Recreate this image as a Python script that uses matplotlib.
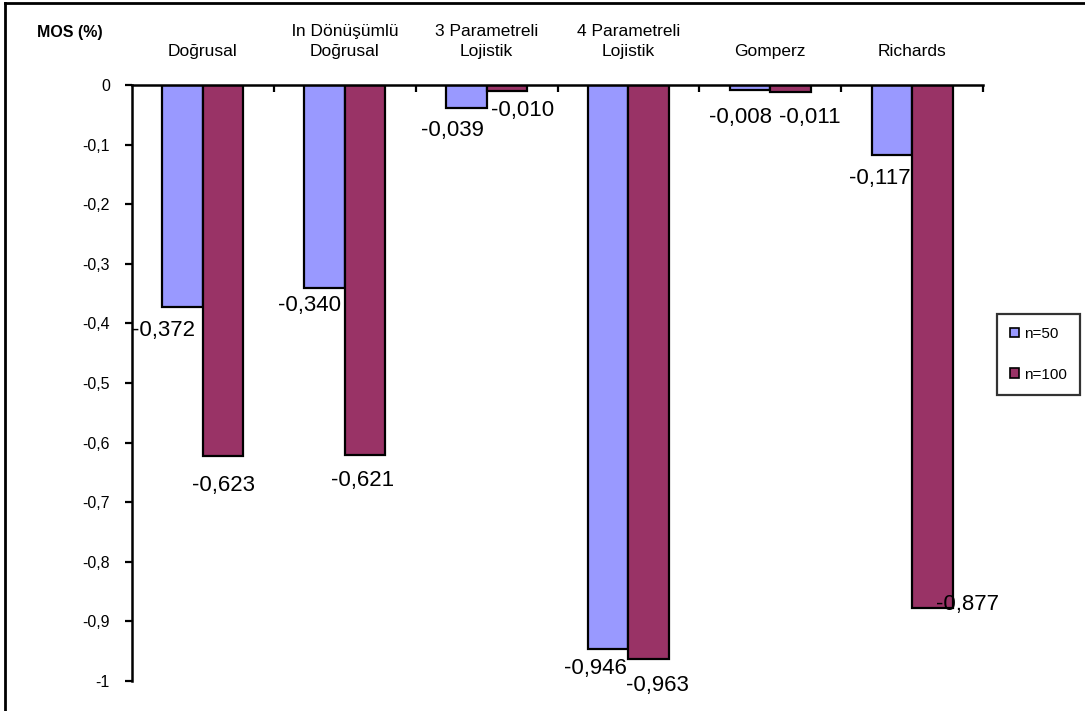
import matplotlib
matplotlib.use("Agg")
import matplotlib.pyplot as plt
from matplotlib.lines import Line2D
from matplotlib.patches import Patch
import numpy as np

plt.rcParams['font.family'] = ['Liberation Sans', 'DejaVu Sans']

# Model names (top of chart) and MOS (%) values for both sample sizes
categories = ["Doğrusal", "ln Dönüşümlü\nDoğrusal", "3 Parametreli\nLojistik",
              "4 Parametreli\nLojistik", "Gomperz", "Richards"]
mos_n50 = [-0.372, -0.340, -0.039, -0.946, -0.008, -0.117]
mos_n100 = [-0.623, -0.621, -0.010, -0.963, -0.011, -0.877]
series_names = ["n=50", "n=100"]
yticks = [0, -0.1, -0.2, -0.3, -0.4, -0.5, -0.6, -0.7, -0.8, -0.9, -1]

colors = ["#9999FF", "#993366"]

# label offsets (points) relative to each bar's end
offs_n50 = [(-14, -17), (-11, -13), (-10, -16), (-9, -14), (-7, -20), (-9, -17)]
offs_n100 = [(0, -21), (-2, -18), (11, -14), (6, -19), (14, -19), (25, 2)]


def fmt(v):
    return f"{v:.3f}".replace(".", ",")


def tick_fmt(t):
    if t == 0:
        return "0"
    if t == -1:
        return "-1"
    return f"{t:.1f}".replace(".", ",")


fig = plt.figure(figsize=(10.85, 7.11), dpi=100)
ax = fig.add_axes([132 / 1085, 1 - 681 / 711, (983 - 132) / 1085, (681 - 85) / 711])

x = np.arange(len(categories)) + 0.5
w = 1 / 3.5
b1 = ax.bar(x - w / 2, mos_n50, width=w, color=colors[0], edgecolor="black", linewidth=1.6)
b2 = ax.bar(x + w / 2, mos_n100, width=w, color=colors[1], edgecolor="black", linewidth=1.6)

for bars, vals, offs in ((b1, mos_n50, offs_n50), (b2, mos_n100, offs_n100)):
    for bar, v, (dx, dy) in zip(bars, vals, offs):
        ax.annotate(fmt(v), (bar.get_x() + bar.get_width() / 2, v),
                    xytext=(dx, dy), textcoords="offset points",
                    ha="center", va="center", fontsize=16, color="black")

ax.set_xlim(0, 6)
ax.set_ylim(-1, 0)
ax.set_yticks(yticks)
ax.set_yticklabels([tick_fmt(t) for t in yticks], fontsize=11.5)
ax.tick_params(axis="y", direction="out", length=5, width=1.6, pad=11)

ax.xaxis.set_ticks_position("top")
ax.set_xticks(x)
ax.set_xticklabels(categories, fontsize=12.5, linespacing=1.35)
ax.tick_params(axis="x", which="major", length=0, pad=19, labeltop=True, labelbottom=False)
ax.set_xticks(np.arange(1, 7), minor=True)
ax.tick_params(axis="x", which="minor", direction="in", length=5, width=1.6, top=True, bottom=False)

for side in ("right", "bottom"):
    ax.spines[side].set_visible(False)
for side in ("left", "top"):
    ax.spines[side].set_linewidth(1.8)

fig.text(70 / 1085, 1 - 32 / 711, "MOS (%)", fontsize=11.5, fontweight="bold",
         ha="center", va="center")

# outer chart frame (left and top edges)
fig.add_artist(Line2D([5 / 1085, 5 / 1085], [0, 1 - 3 / 711], transform=fig.transFigure,
                      color="black", linewidth=2))
fig.add_artist(Line2D([5 / 1085, 1], [1 - 3 / 711, 1 - 3 / 711], transform=fig.transFigure,
                      color="black", linewidth=2))

handles = [Patch(facecolor=c, edgecolor="black", linewidth=1.2) for c in colors]
leg = fig.legend(handles, series_names, loc="upper left",
                 bbox_to_anchor=(997 / 1085, 1 - 314 / 711), fontsize=11,
                 frameon=True, fancybox=False, handlelength=0.6, handleheight=0.6,
                 handletextpad=0.3, labelspacing=1.75, borderpad=0.85, borderaxespad=0)
leg.get_frame().set_edgecolor("black")
leg.get_frame().set_linewidth(1.6)

fig.savefig("out.png", dpi=100)
